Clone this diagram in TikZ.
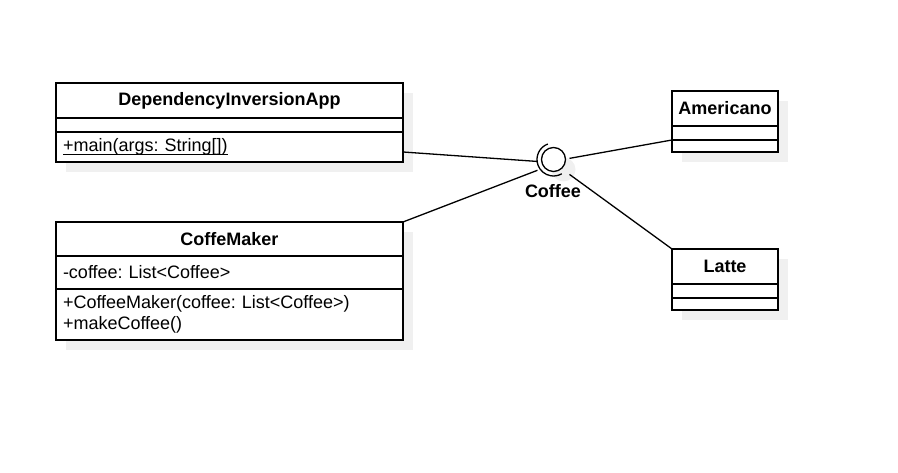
\documentclass[tikz,border=0pt]{standalone}
\usepackage{fontspec}
\setmainfont{Liberation Sans}
\frenchspacing
\usetikzlibrary{positioning,backgrounds}
\definecolor{shadowgray}{HTML}{F0F0F0}
\newcommand{\staticmember}[1]{\setbox0\hbox{#1}\rlap{\vrule height -2.2pt depth 3.6pt width \wd0}#1}
\tikzset{
  umlhead/.style={draw, fill=white, line width=1.5pt, outer sep=0pt, inner sep=0pt,
    font=\fontsize{18}{21.6}\selectfont\bfseries},
  umlpart/.style={draw, fill=white, line width=1.5pt, outer sep=0pt, inner xsep=7pt,
    inner ysep=0pt, align=left, font=\fontsize{18}{21.6}\selectfont},
  umlshadow/.style={fill=shadowgray},
  link/.style={line width=1.3pt}
}
\begin{document}
\begin{tikzpicture}[x=1pt,y=1pt]
\useasboundingbox (0,0) rectangle (898,473);
% DependencyInversionApp
\node[umlhead, minimum width=347pt, minimum height=35pt, anchor=north west] (appHead) at (56,390) {DependencyInversionApp};
\node[umlpart, text width=333pt, minimum height=14pt, below=0pt of appHead] (appAttr) {};
\node[umlpart, text width=333pt, minimum height=30pt, below=0pt of appAttr] (appOps) {\staticmember{+main(args: String[])}};
% CoffeMaker
\node[umlhead, minimum width=347pt, minimum height=34pt, anchor=north west] (makerHead) at (56,251) {CoffeMaker};
\node[umlpart, text width=333pt, minimum height=33pt, below=0pt of makerHead] (makerAttr) {-coffee: List<Coffee>};
\node[umlpart, text width=333pt, minimum height=51pt, below=0pt of makerAttr] (makerOps) {+CoffeeMaker(coffee: List<Coffee>)\\+makeCoffee()};
% Americano
\node[umlhead, minimum width=106pt, minimum height=35pt, anchor=north west] (amHead) at (672,382) {Americano};
\node[umlpart, text width=92pt, minimum height=14pt, below=0pt of amHead] (amAttr) {};
\node[umlpart, text width=92pt, minimum height=12pt, below=0pt of amAttr] (amOps) {};
% Latte
\node[umlhead, minimum width=106pt, minimum height=35pt, anchor=north west] (latteHead) at (672,224) {Latte};
\node[umlpart, text width=92pt, minimum height=14pt, below=0pt of latteHead] (latteAttr) {};
\node[umlpart, text width=92pt, minimum height=12pt, below=0pt of latteAttr] (latteOps) {};
% interface Coffee
\node[draw, circle, fill=white, line width=1.3pt, minimum size=24pt, inner sep=0pt] (coffee) at (553.5,313.5) {};
\node[minimum size=32pt, inner sep=0pt, outer sep=0pt] (socket) at (coffee.center) {};
\draw[link] ([shift={(110:16.5pt)}]coffee.center) arc[start angle=110, end angle=300, radius=16.5pt];
\node[font=\fontsize{18}{21.6}\selectfont\bfseries] (coffeeLabel) at (553,282) {Coffee};
% shadows
\begin{scope}[on background layer]
\fill[umlshadow] ([shift={(10pt,-10pt)}]appHead.north west) rectangle ([shift={(10pt,-10pt)}]appOps.south east);
\fill[umlshadow] ([shift={(10pt,-10pt)}]makerHead.north west) rectangle ([shift={(10pt,-10pt)}]makerOps.south east);
\fill[umlshadow] ([shift={(10pt,-10pt)}]amHead.north west) rectangle ([shift={(10pt,-10pt)}]amOps.south east);
\fill[umlshadow] ([shift={(10pt,-10pt)}]latteHead.north west) rectangle ([shift={(10pt,-10pt)}]latteOps.south east);
\fill[umlshadow] ([shift={(10pt,-10pt)}]coffee.center) circle[radius=12pt];
\end{scope}
% connectors
\draw[link] ([yshift=10pt]appOps.south east) -- (socket.187);
\draw[link] (makerHead.north east) -- (socket.214);
\draw[link] (socket.4) -- (amAttr.south west);
\draw[link] (socket.-43) -- (latteHead.north west);
\end{tikzpicture}
\end{document}
